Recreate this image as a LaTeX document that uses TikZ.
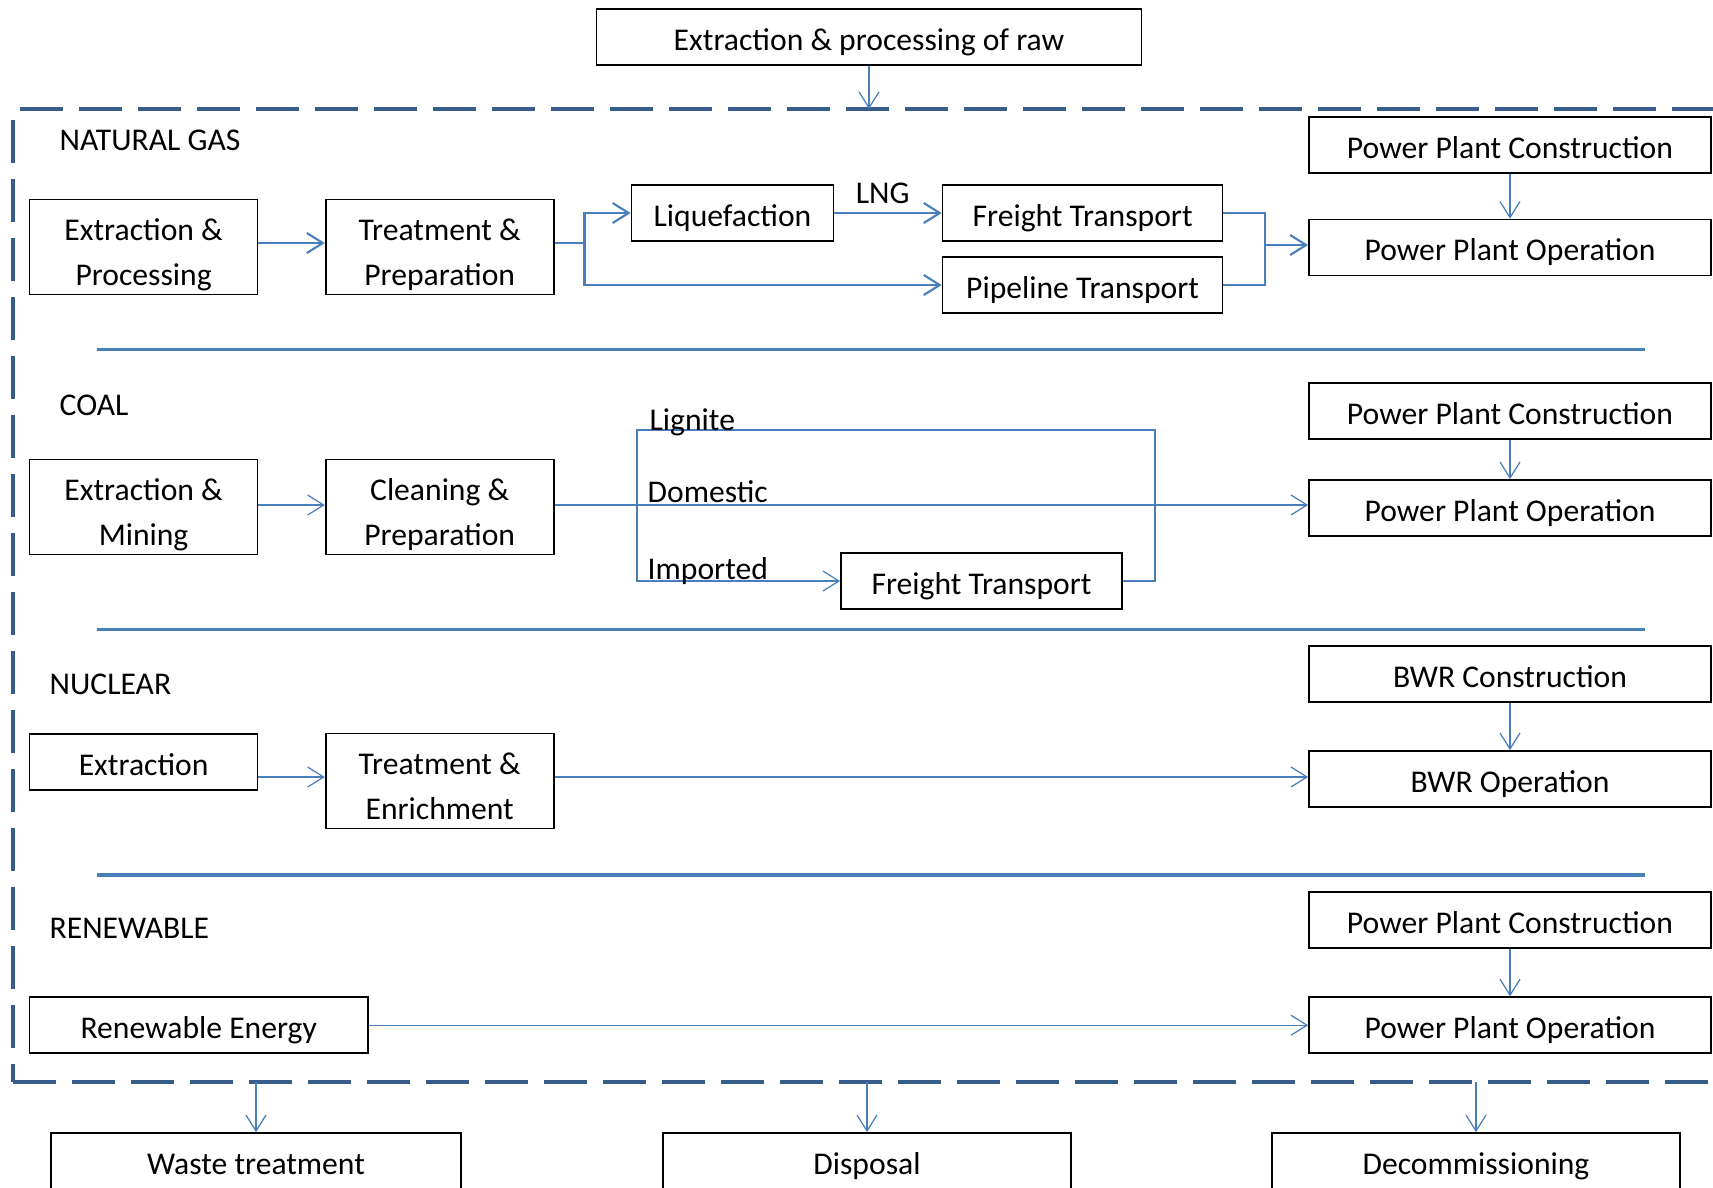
\documentclass[tikz,border=0pt]{standalone}
\usepackage{fontspec}
\setmainfont{Carlito}
\usetikzlibrary{arrows.meta,positioning,calc}
\definecolor{lcblue}{RGB}{74,126,187}
\definecolor{lcdark}{RGB}{56,93,138}

\begin{document}
\begin{tikzpicture}[
  x=0.1mm, y=-0.1mm,
  box/.style={draw=black, line width=0.5pt, minimum width=22.8mm,
              minimum height=5.6mm, inner sep=1pt, align=center,
              text height=2.6mm, text depth=0mm,
              font=\fontsize{9}{12.8}\selectfont},
  tallbox/.style={box, minimum height=9.5mm, text height=7.6mm, text depth=0mm},
  plant/.style={box, minimum width=40.2mm},
  endbox/.style={box, minimum width=40.8mm, minimum height=6.2mm, text height=2mm},
  arr/.style={-{Straight Barb[length=1.6mm,width=2mm]}, line width=0.35pt, color=lcblue},
  ngarr/.style={arr, line width=0.6pt},
  ngline/.style={line width=0.6pt, color=lcblue},
  coline/.style={line width=0.35pt, color=lcblue},
  divider/.style={line width=1pt, color=lcblue},
  lcframe/.style={line width=1.3pt, color=lcdark, dash pattern=on 4.3mm off 1.6mm},
  tag/.style={font=\fontsize{9}{11}\selectfont, inner sep=0pt, text=black},
  >=Stealth
]
\useasboundingbox (0,0) rectangle (1713,1187);

% Raw material supply
\node[box, minimum width=54.5mm] (raw) at (869,37) {Extraction \& processing of raw};

% Life-cycle boundary
\coordinate (frame_top) at (0,109);
\coordinate (frame_bot) at (0,1082);
\draw[lcframe] (20,109) -- (1760,109);
\draw[lcframe] (13,120) -- (13,1082);
\draw[lcframe] (13,1082) -- (1760,1082);
\draw[arr] (raw.south) -- (raw.south |- frame_top);

% Dividers
\draw[divider] (97,349.6) -- (1645,349.6);
\draw[divider] (97,629.3) -- (1645,629.3);
\draw[divider] (97,875) -- (1645,875);

% Natural gas
\node[tag, anchor=west] (ng_title) at (59,140) {NATURAL GAS};
\node[tallbox] (ng_ext)     at (143.6,247)   {Extraction \&\\Processing};
\node[tallbox] (ng_treat)   at (439.7,247)   {Treatment \&\\Preparation};
\node[box, minimum width=20.2mm] (ng_liq) at (732.5,213) {Liquefaction};
\node[box, minimum width=28mm] (ng_freight) at (1082.6,213) {Freight Transport};
\node[box, minimum width=28mm] (ng_pipe)    at (1082.6,285) {Pipeline Transport};
\node[plant] (ng_cons) at (1510,145.3) {Power Plant Construction};
\node[plant] (ng_op)   at (1510,247.5) {Power Plant Operation};
\coordinate (ng_split) at (584.5,243);
\coordinate (ng_merge) at (1265,245);

\draw[ngarr] (ng_ext.east |- ng_split) -- (ng_treat.west |- ng_split);
\draw[ngline] (ng_treat.east |- ng_split) -- (ng_split);
\draw[ngarr] (ng_split) |- (ng_liq.west);
\draw[ngarr] (ng_split) |- (ng_pipe.west);
\draw[ngarr] (ng_liq.east) -- node[tag, above=0.8mm, pos=0.45]{LNG} (ng_freight.west);
\draw[ngline] (ng_freight.east) -| (ng_merge);
\draw[ngline] (ng_pipe.east) -| (ng_merge);
\draw[ngarr] (ng_merge) -- (ng_op.west |- ng_merge);
\draw[arr] (ng_cons.south) -- (ng_op.north);

% Coal
\node[tag, anchor=west] (co_title) at (59,405) {COAL};
\node[tallbox] (co_ext)   at (143.6,507) {Extraction \&\\Mining};
\node[tallbox] (co_clean) at (439.7,507) {Cleaning \&\\Preparation};
\node[box, minimum width=28.1mm] (co_freight) at (981.5,581) {Freight Transport};
\node[plant] (co_cons) at (1510,411.2) {Power Plant Construction};
\node[plant] (co_op)   at (1510,508)   {Power Plant Operation};
\coordinate (co_split) at (637,505);
\coordinate (co_lig)   at (1155,430);
\coordinate (co_join)  at (1155,505);

\draw[arr] (co_ext.east |- co_split) -- (co_clean.west |- co_split);
\draw[arr] (co_clean.east |- co_split) -- (co_op.west |- co_split);
\draw[coline] (co_split) |- (co_lig) -- (co_join);
\draw[arr] (co_split) |- (co_freight.west);
\draw[coline] (co_freight.east) -| (co_join);
\draw[arr] (co_cons.south) -- (co_op.north);
\node[tag, anchor=base west] (co_lignite) at ([xshift=1.2mm]co_split |- co_lig) {Lignite};
\node[tag, anchor=base west] (co_dom) at ([xshift=1mm,yshift=0.3mm]co_split) {Domestic};
\node[tag, anchor=base west] (co_imp) at ([xshift=1mm,yshift=0.2mm]co_split |- co_freight) {Imported};

% Nuclear
\node[tag, anchor=west] (nu_title) at (49,684) {NUCLEAR};
\node[box] (nu_ext)       at (143.6,762) {Extraction};
\node[tallbox] (nu_treat) at (439.7,781) {Treatment \&\\Enrichment};
\node[plant] (nu_cons) at (1510,674) {BWR Construction};
\node[plant] (nu_op)   at (1510,779) {BWR Operation};
\coordinate (nu_line) at (0,777);

\draw[arr] (nu_ext.east |- nu_line) -- (nu_treat.west |- nu_line);
\draw[arr] (nu_treat.east |- nu_line) -- (nu_op.west |- nu_line);
\draw[arr] (nu_cons.south) -- (nu_op.north);

% Renewable
\node[tag, anchor=west] (re_title) at (49,928.6) {RENEWABLE};
\node[box, minimum width=33.85mm] (re_src) at (198.7,1025.2) {Renewable Energy};
\node[plant] (re_cons) at (1510,920)    {Power Plant Construction};
\node[plant] (re_op)   at (1510,1025.2) {Power Plant Operation};

\draw[arr] (re_src.east) -- (re_op.west);
\draw[arr] (re_cons.south) -- (re_op.north);

% End of life
\node[endbox, minimum width=41mm] (waste) at (256,1164) {Waste treatment};
\node[endbox] (disp)  at (867,1164)  {Disposal};
\node[endbox] (decom) at (1476,1164) {Decommissioning};

\draw[arr] (waste.north |- frame_bot) -- (waste.north);
\draw[arr] (disp.north |- frame_bot)  -- (disp.north);
\draw[arr] (decom.north |- frame_bot) -- (decom.north);

\end{tikzpicture}
\end{document}
